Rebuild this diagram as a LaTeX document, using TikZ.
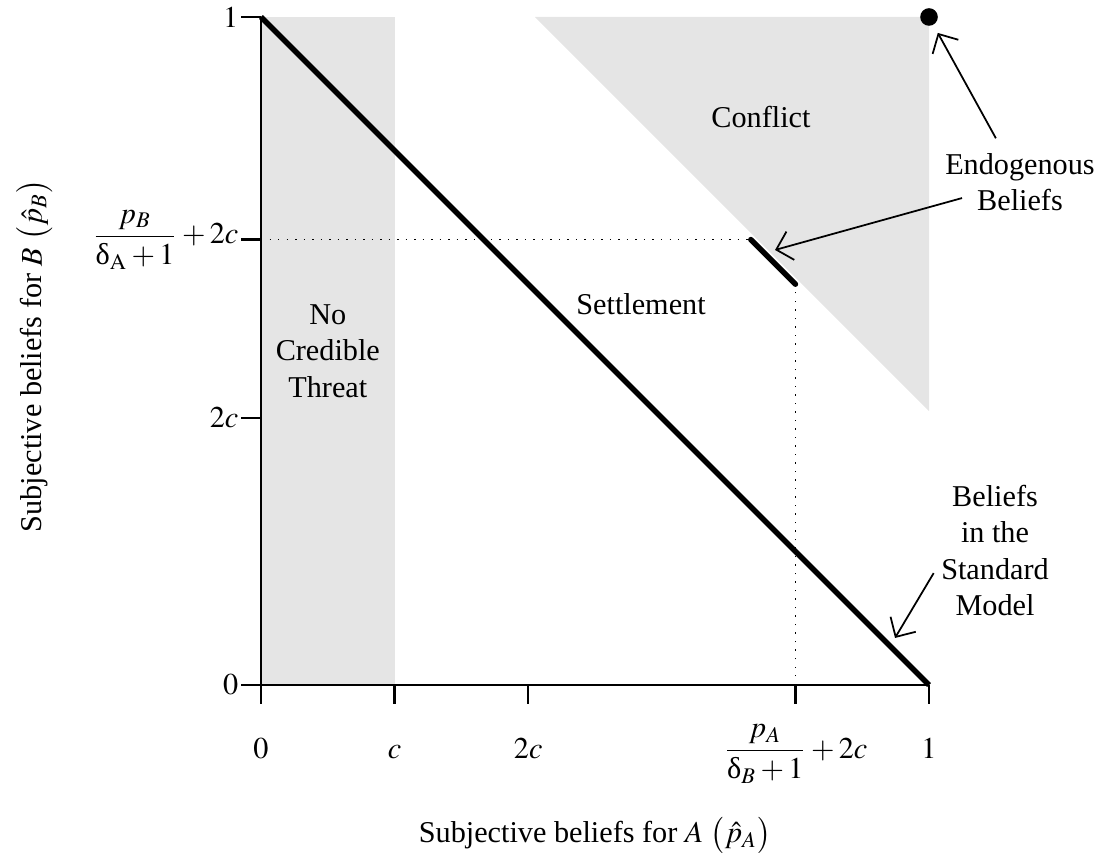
\documentclass[tikz,border=0pt]{standalone}
\usepackage{amsmath}
\usepackage{mathptmx}
\usepackage[no-math]{fontspec}
\setmainfont{Liberation Serif}
\usetikzlibrary{positioning,arrows.meta}
\newcommand{\updel}{\textrm{δ}}

\begin{document}
\begin{tikzpicture}[x=8cm, y=8cm, font=\fontsize{10.3}{12.4}\selectfont,
  >={Straight Barb[length=5pt,width=10pt]},
  region/.style={fill=black!10},
  belief/.style={line width=1.9pt},
  guide/.style={line width=0.5pt, dash pattern=on 0.5pt off 2.4pt},
  axistick/.style={line width=0.8pt},
  regiontext/.style={align=center, inner sep=0pt},
  pointer/.style={->, line width=0.6pt}]
\useasboundingbox (-0.3907,-0.2545) rectangle (1.2560,1.0254);
% shaded regions: no credible threat band, conflict corner
\fill[region] (0,0) rectangle (0.2,1);
\fill[region] (0.41,1) -- (1,1) -- (1,0.41) -- cycle;
% dotted guides to the endogenous segment
\draw[guide] (0,2/3) -- (0.7333,2/3);
\draw[guide] (0.8,0) -- (0.8,0.6);
% axes with ticks
\draw[line width=0.8pt] (0,1) -- (0,0) -- (1,0);
\foreach \x/\name/\txt in {0/xzero/$0$, 0.2/xc/$c$, 0.4/xtwoc/$2c$,
    0.8/xpa/{$\dfrac{p_A}{\updel_B+1}+2c$}, 1/xone/$1$}{
  \draw[axistick] (\x,0) -- (\x,-0.028);
  \node[anchor=base] (\name) at (\x,-0.1093) {\txt};
}
\foreach \y/\name/\txt in {0/yzero/$0$, 0.4/ytwoc/$2c$,
    0.6667/ypb/{$\dfrac{p_B}{\updel_{\mathrm{A}}+1}+2c$}, 1/yone/$1$}{
  \draw[axistick] (0,\y) -- (-0.03,\y);
  \node[anchor=east, inner sep=0.7pt] (\name) at (-0.03,\y) {\txt};
}
% belief lines
\draw[belief] (0,1) -- (1,0);
\draw[belief, line cap=round] (0.7333,0.6667) -- (0.8,0.6);
\node[circle, fill, inner sep=0pt, minimum size=6pt] (peak) at (1,1) {};
% region names
\node[regiontext] (threat) at (0.1,0.5) {No\\Credible\\Threat};
\node[regiontext, anchor=base] (settle) at (0.5689,0.5539) {Settlement};
\node[regiontext, anchor=base] (conflict) at (0.7485,0.8338) {Conflict};
% callouts
\node[regiontext] (endo) at (1.1362,0.753) {Endogenous\\Beliefs};
\node[regiontext] (std) at (1.0988,0.2013) {Beliefs\\in the\\Standard\\Model};
\coordinate (segtip) at (0.7695,0.6512);
\coordinate (stdtip) at (0.9491,0.0704);
\draw[pointer, shorten <=17pt, shorten >=3pt] (endo.center) -- (peak);
\draw[pointer, shorten <=20.5pt] (endo.center) -- (segtip);
\draw[pointer] ([xshift=-2.4pt,yshift=-7.7pt]std.west) -- (stdtip);
% axis titles
\node[anchor=base] (xtitle) at (0.5,-0.2365) {Subjective beliefs for $A$ $\bigl(\hat{p}_A\bigr)$};
\node[anchor=base, rotate=90] (ytitle) at (-0.328,0.4925) {Subjective beliefs for $B$ $\bigl(\hat{p}_B\bigr)$};
\end{tikzpicture}
\end{document}
